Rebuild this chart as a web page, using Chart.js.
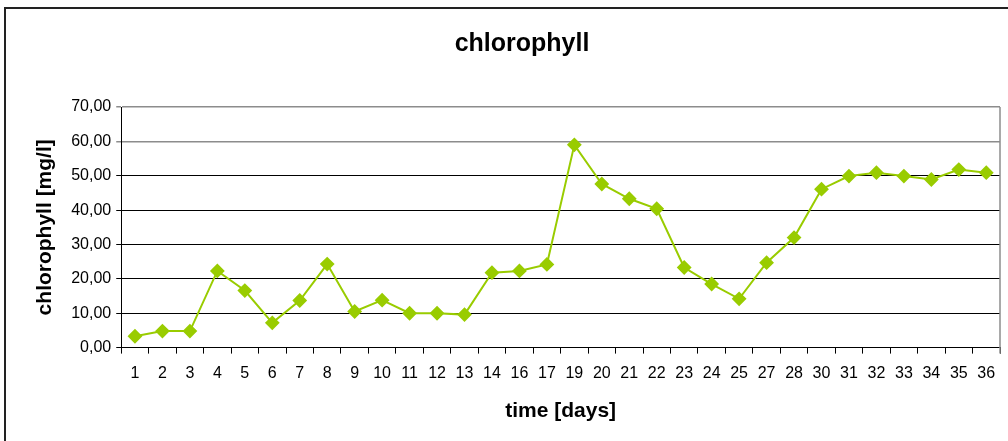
<!doctype html>
<html>

<head>
    <title>chlorophyll</title>
    <script src="https://cdn.jsdelivr.net/npm/chart.js"></script>
    <style>
        body { margin: 0; background: #fff; }
    </style>
</head>

<body>
    <canvas id="grafico" width="1008" height="441"></canvas>

    <script>
        // dias (eixo x) e valores de clorofila
        var dias = ['1', '2', '3', '4', '5', '6', '7', '8', '9', '10', '11', '12', '13', '14', '16', '17',
            '19', '20', '21', '22', '23', '24', '25', '27', '28', '30', '31', '32', '33', '34', '35', '36'];
        var clorofila = [3.3, 4.8, 4.8, 22.3, 16.6, 7.2, 13.7, 24.3, 10.5, 13.8, 10.0, 10.0, 9.6, 21.8, 22.3, 24.2,
            59.0, 47.6, 43.3, 40.4, 23.3, 18.5, 14.2, 24.7, 32.0, 46.1, 49.9, 50.9, 49.9, 48.9, 51.8, 50.9];
        var ticksY = [0, 10, 20, 30, 40, 50, 60, 70];

        var fonte = "'Liberation Sans', Arial, sans-serif";

        // moldura externa e borda direita da área do gráfico
        var moldura = {
            id: 'moldura',
            afterDraw: function (chart) {
                var ctx = chart.ctx;
                var area = chart.chartArea;
                ctx.save();
                ctx.strokeStyle = '#8c8c8c';
                ctx.lineWidth = 1.5;
                ctx.beginPath();
                ctx.moveTo(area.right, area.top);
                ctx.lineTo(area.right, area.bottom + 6);
                ctx.stroke();
                ctx.strokeStyle = '#222';
                ctx.lineWidth = 2;
                ctx.beginPath();
                ctx.moveTo(5, chart.height + 5);
                ctx.lineTo(5, 8);
                ctx.lineTo(chart.width + 5, 8);
                ctx.stroke();
                ctx.restore();
            }
        };

        var grafico = new Chart(document.getElementById('grafico').getContext('2d'), {
            type: 'line',
            data: {
                labels: dias,
                datasets: [{
                    label: 'chlorophyll',
                    data: clorofila,
                    borderColor: '#99cc00',
                    backgroundColor: '#99cc00',
                    borderWidth: 2,
                    pointStyle: 'rectRot',
                    pointRadius: 6,
                    pointHoverRadius: 6,
                    tension: 0
                }]
            },
            options: {
                responsive: false,
                animation: false,
                layout: {
                    padding: { left: 33, right: -3, top: 0, bottom: 17 }
                },
                scales: {
                    x: {
                        type: 'category',
                        offset: true,
                        grid: {
                            offset: true,
                            drawOnChartArea: false,
                            color: '#000',
                            tickLength: 6
                        },
                        border: { color: '#000', width: 1 },
                        ticks: {
                            color: '#000',
                            font: { family: fonte, size: 16 },
                            maxRotation: 0,
                            autoSkip: false,
                            padding: 10
                        },
                        title: {
                            display: true,
                            text: 'time [days]',
                            color: '#000',
                            font: { family: fonte, size: 21, weight: 'bold' },
                            padding: { top: 6, bottom: 0 }
                        }
                    },
                    y: {
                        min: 0,
                        max: 70,
                        afterBuildTicks: function (axis) {
                            axis.ticks = ticksY.map(function (v) { return { value: v }; });
                        },
                        grid: {
                            color: function (c) { return c.tick && c.tick.value >= 60 ? '#8c8c8c' : '#000'; },
                            lineWidth: function (c) { return c.tick && c.tick.value >= 60 ? 1.5 : 1; },
                            tickLength: 5
                        },
                        border: { color: '#000', width: 1 },
                        ticks: {
                            color: '#000',
                            font: { family: fonte, size: 16 },
                            padding: 5,
                            callback: function (v) { return v.toFixed(2).replace('.', ','); }
                        },
                        title: {
                            display: true,
                            text: 'chlorophyll [mg/l]',
                            color: '#000',
                            font: { family: fonte, size: 21, weight: 'bold' },
                            padding: { top: 0, bottom: 8 }
                        }
                    }
                },
                plugins: {
                    legend: { display: false },
                    tooltip: { enabled: false },
                    title: {
                        display: true,
                        text: 'chlorophyll',
                        color: '#000',
                        font: { family: fonte, size: 25, weight: 'bold' },
                        padding: { top: 29, bottom: 48 }
                    }
                }
            },
            plugins: [moldura]
        });
    </script>
</body>

</html>
